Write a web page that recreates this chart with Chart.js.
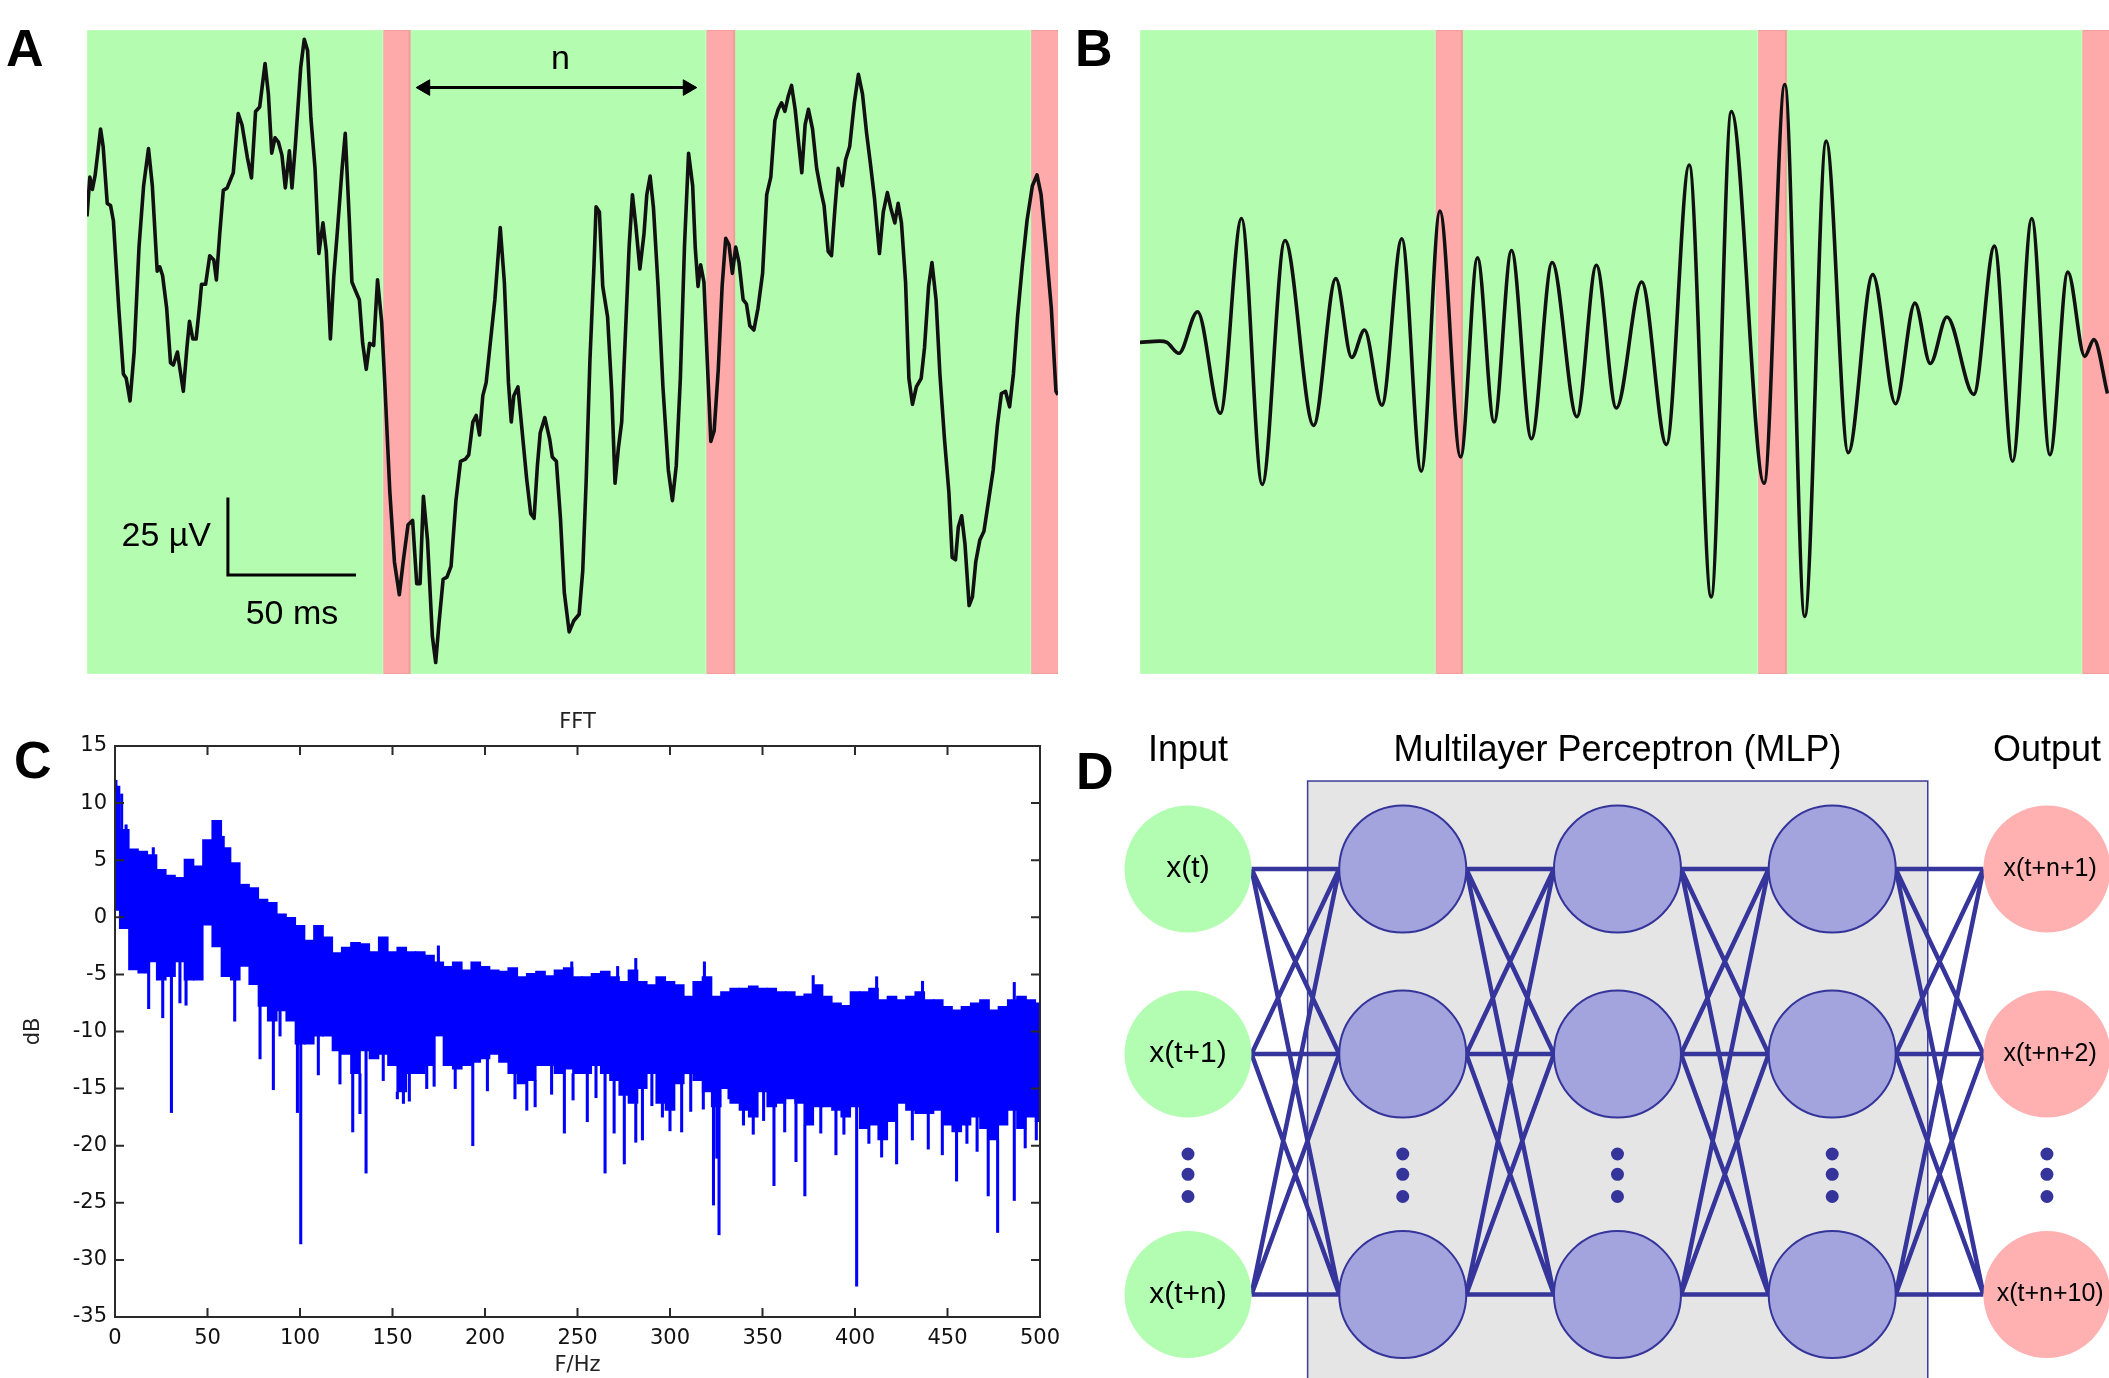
<!DOCTYPE html>
<html>
<head>
<meta charset="utf-8">
<title>EEG windows, FFT and MLP</title>
<script src="https://cdn.jsdelivr.net/npm/chart.js@4.4.1/dist/chart.umd.min.js"></script>
<style>
  body { margin: 0; background: #fff; }
  #page { position: relative; width: 2109px; height: 1378px; overflow: hidden; background: #fff; }
  #page canvas { position: absolute; }
  .panel-letter {
    position: absolute;
    font: bold 52px Arial, "Liberation Sans", sans-serif;
    line-height: 1;
    color: #000;
    z-index: 5;
  }
</style>
</head>
<body>
<div id="page">
  <canvas id="trace-a" width="971" height="644" style="left:87px;top:30px"></canvas>
  <canvas id="trace-b" width="969" height="644" style="left:1140px;top:30px"></canvas>
  <canvas id="fft-chart" width="1070" height="678" style="left:0;top:700px"></canvas>
  <canvas id="mlp-chart" width="1029" height="678" style="left:1080px;top:700px"></canvas>
  <div class="panel-letter" style="left:6px;top:22px">A</div>
  <div class="panel-letter" style="left:1075px;top:22px">B</div>
  <div class="panel-letter" style="left:14px;top:734px">C</div>
  <div class="panel-letter" style="left:1076px;top:745px">D</div>
</div>
<script>
// Panel A: raw EEG (time in ms, amplitude in µV)
const rawTimeMs = [0,1.1,2.1,3.2,5.3,6.3,7.9,9.2,10.3,12.4,14.2,15.3,16.8,18.4,20.3,22.1,24.0,25.5,27.4,28.4,
  29.5,31.1,32.6,33.7,35.3,36.3,37.6,39.0,40.0,41.3,42.6,44.0,44.7,46.3,47.9,49.5,50.5,51.8,53.2,54.7,
  57.1,59.0,60.5,62.6,64.2,65.8,67.4,69.5,70.8,72.1,73.4,74.7,76.1,77.4,79.0,80.0,81.3,83.4,84.8,86.1,
  87.4,89.0,90.5,92.1,93.4,95.0,96.3,97.9,99.5,100.8,102.4,103.4,104.8,106.3,107.6,109.0,110.3,111.9,113.4,115.0,
  116.3,118.2,120.0,121.9,123.4,125.3,127.1,128.7,130.0,131.3,132.9,134.8,136.1,137.4,139.0,140.5,142.1,144.0,145.8,147.7,
  149.0,150.6,151.9,153.2,154.5,155.8,157.4,159.2,161.3,162.9,164.5,165.6,166.6,168.2,169.5,171.6,173.2,174.5,175.8,176.9,
  178.7,180.6,181.6,183.2,184.8,186.3,188.2,190.0,192.1,193.5,194.8,196.3,197.9,198.7,200.0,201.3,203.2,204.8,206.1,207.4,
  208.7,210.0,211.6,212.9,214.2,215.8,217.4,218.5,219.8,221.1,222.9,224.8,226.9,228.5,230.0,231.6,233.2,234.8,236.4,237.4,
  238.5,239.5,240.8,242.1,243.5,244.8,246.4,247.9,249.3,250.6,251.9,253.2,254.5,256.1,257.4,258.7,260.3,261.9,263.7,265.3,
  266.9,268.5,269.8,271.1,272.4,273.7,275.0,276.4,277.9,279.0,280.3,281.6,283.2,284.8,286.4,287.7,289.3,290.6,291.9,293.2,
  294.8,296.1,297.7,299.5,301.1,302.7,304.3,305.8,307.4,309.3,310.8,312.4,313.7,315.3,316.6,317.9,319.5,320.8,322.2,323.7,
  325.6,326.9,328.5,329.8,331.4,332.9,334.7,336.4,337.7,339.0,340.1,341.4,342.7,344.3,345.6,346.9,348.5,350.1,351.9,353.7,
  355.3,356.9,358.5,360.1,361.6,363.2,365.1,366.9,369.0,370.8,372.4,374.3,376.4,378.2,379.0];
const rawMicroV = [43.8,56.5,52.5,57.2,72.0,66.4,48.0,47.3,42.4,14.1,-7.1,-8.5,-15.8,0,33.9,53.7,65.7,53.7,26.1,27.5,
  24.7,14.1,-3.5,-4.2,0,-5.6,-12.7,1.4,9.9,4.2,4.2,15.5,21.9,21.9,31.1,29.7,23.3,38.1,52.2,53.0,
  57.9,77.0,73.4,62.8,56.2,77.7,79.1,93.2,83.3,64.2,69.2,67.8,63.5,53.0,65.0,53.0,66.4,91.8,101.0,97.4,
  75.5,59.3,31.8,41.7,32.5,4.2,24.0,40.9,58.6,70.6,42.4,22.6,19.8,16.9,2.8,-5.6,2.8,2.1,23.3,9.9,
  -11.3,-45.2,-67.8,-78.4,-67.8,-55.8,-54.4,-74.8,-74.8,-46.6,-60.7,-91.8,-100.3,-87.5,-73.4,-72.7,-69.2,-48.0,-35.3,-34.6,
  -33.2,-22.6,-20.5,-26.8,-14.1,-9.9,2.8,16.9,40.2,22.6,-9.9,-22.6,-14.1,-11.3,-22.6,-40.9,-52.2,-53.7,-36.7,-26.1,
  -21.2,-28.2,-33.9,-35.3,-53.7,-77.7,-90.4,-86.8,-84.7,-70.6,-42.4,-2.8,28.2,46.9,45.2,21.2,11.3,-12.7,-42.4,-31.1,
  -22.6,2.8,33.9,50.8,40.9,26.8,38.1,50.8,56.8,46.6,21.2,-11.3,-38.1,-48.0,-36.7,-8.5,33.9,64.2,53.7,33.9,
  21.2,28.2,22.6,-2.8,-28.9,-25.4,-5.6,21.2,36.7,34.6,25.4,33.9,28.9,16.9,15.5,8.5,7.1,14.1,25.4,50.8,
  56.5,74.8,78.4,80.5,77.7,82.6,86.1,78.4,66.4,57.9,73.4,78.4,72.0,59.3,52.2,47.3,32.5,31.1,45.9,59.3,
  53.7,62.1,66.4,80.5,89.7,83.3,70.6,60.7,49.4,31.8,45.2,51.5,46.6,41.7,48.0,41.7,22.6,-8.5,-16.9,-11.3,
  -8.5,1.4,21.2,28.9,16.9,-7.1,-28.2,-45.2,-66.4,-67.1,-56.5,-52.9,-62.1,-81.9,-79.1,-67.8,-60.7,-57.9,-48.0,-38.1,
  -24.0,-13.4,-12.7,-17.7,-7.1,11.3,28.2,42.4,53.7,57.2,50.8,33.9,14.1,-12.7,-13.8];

// Panel B: filtered EEG, turning points
const filtTimeMs = [0,7.8,10.5,15.2,22.5,31.4,39.7,47.8,56.7,67.9,76.6,82.8,87.8,94.6,102.4,110.0,117.3,125.4,132.0,138.5,
  145.3,153.1,161.2,170.9,178.5,186.3,196.2,205.9,214.8,223.4,231.3,244.1,252.2,260.0,268.4,277.0,286.6,295.5,303.1,309.1,
  315.6,326.1,334.2,341.3,348.8,355.9,362.9,369.5,373.1,378.4];
const filtMicroV = [3.1,3.5,3.1,-0.4,13.0,-19.8,43.1,-42.8,36.0,-23.7,23.7,-1.8,7.1,-17.2,36.6,-38.5,45.5,-33.9,30.4,-22.6,
  32.8,-28.0,28.9,-20.9,28.0,-18.1,22.6,-29.9,60.4,-79.1,77.7,-42.4,86.4,-85.4,68.1,-32.5,25.0,-16.7,15.8,-3.7,
  11.3,-13.7,34.2,-35.3,43.1,-33.2,25.8,-1.4,4.0,-13.4];

// input windows (n samples) and the predicted samples that follow them
const segmentStart = [0, 115.4, 125.9, 241.5, 252.6, 368.3];
const segmentEnd = [115.4, 125.9, 241.5, 252.6, 368.3, 380];
const segmentType = ["window", "target", "window", "target", "window", "target"];

const scaleBarMs = 50;
const scaleBarMicroV = 25;
const scaleBarOrigin = [55, -72];
const windowArrowMs = [132, 234.5];
const windowArrowMicroV = 85.4;

// Panel C: FFT spectrum, 5 Hz bins (top and bottom of the trace in each bin)
const fftFreq = [0,5,10,15,20,25,30,35,40,45,50,55,60,65,70,75,80,85,90,95,
  100,105,110,115,120,125,130,135,140,145,150,155,160,165,170,175,180,185,190,195,
  200,205,210,215,220,225,230,235,240,245,250,255,260,265,270,275,280,285,290,295,
  300,305,310,315,320,325,330,335,340,345,350,355,360,365,370,375,380,385,390,395,
  400,405,410,415,420,425,430,435,440,445,450,455,460,465,470,475,480,485,490,495,500];
const fftHigh = [11.5,7.7,6.0,5.8,5.5,4.2,3.7,3.5,5.1,4.5,6.8,8.5,6.1,4.8,2.9,2.6,1.6,1.3,0.3,0.0,
  -0.7,-2.0,-0.7,-1.7,-3.1,-2.6,-2.2,-2.3,-3.0,-1.7,-3.0,-2.6,-3.0,-3.0,-3.3,-3.9,-4.3,-3.9,-4.6,-3.9,
  -4.3,-4.6,-4.7,-4.4,-5.2,-4.9,-4.7,-5.1,-4.6,-4.4,-5.2,-5.2,-4.9,-4.7,-5.2,-5.6,-4.6,-5.6,-5.9,-5.2,
  -5.6,-5.9,-6.9,-5.6,-5.2,-6.9,-6.5,-6.2,-6.2,-6.0,-6.2,-6.2,-6.5,-6.5,-6.9,-6.7,-5.9,-6.9,-7.5,-7.7,
  -6.5,-6.5,-6.2,-7.2,-6.9,-7.2,-6.9,-6.5,-7.2,-7.2,-7.8,-8.1,-7.8,-7.5,-7.2,-8.1,-7.8,-7.2,-6.9,-7.2,-7.5];
const fftLow = [0.6,-1.0,-4.6,-4.9,-3.9,-5.5,-5.2,-3.9,-5.5,-5.5,-0.7,-2.6,-5.2,-5.5,-4.3,-5.9,-7.8,-9.1,-8.2,-9.1,
  -11.1,-11.1,-10.4,-10.4,-11.7,-12.0,-13.7,-11.7,-12.4,-12.0,-13.0,-15.3,-13.7,-13.7,-13.0,-10.4,-13.0,-13.3,-13.0,-12.7,
  -12.4,-12.0,-12.7,-13.7,-14.6,-14.3,-13.0,-13.0,-13.7,-13.3,-13.7,-13.7,-13.0,-13.7,-14.3,-15.6,-16.3,-15.0,-13.7,-16.3,
  -16.9,-14.6,-13.7,-14.3,-15.3,-16.6,-15.0,-16.3,-16.9,-17.5,-15.3,-16.6,-16.3,-15.9,-16.3,-18.2,-16.6,-16.6,-16.9,-17.5,
  -16.6,-18.5,-18.2,-19.5,-17.9,-16.3,-16.9,-17.2,-17.2,-16.9,-18.2,-18.8,-18.2,-17.5,-18.5,-19.5,-18.2,-16.9,-18.5,-17.5,-17.9];
// single deep dips and tall teeth
const dipHz = [18.2,25.8,30.5,35.1,38.4,64.7,78.4,85.6,89.2,98.6,100.4,109.9,121.6,128.5,132.4,135.7,145.0,152.6,155.9,159.1,
  168.5,172.5,183.9,193.4,201.3,216.2,222.6,227.1,236.0,242.9,247.6,255.3,260.0,264.9,269.8,275.3,281.5,285.1,290.2,295.9,
  300.0,306.3,311.2,318.0,323.5,325.3,326.5,331.9,339.7,345.0,350.6,356.2,362.0,368.1,372.9,381.5,389.7,394.0,400.9,407.5,
  414.4,422.5,431.0,439.6,447.2,454.9,460.5,466.0,472.0,477.1,486.1,492.0,498.0];
const dipDb = [-8.0,-8.8,-17.1,-7.5,-7.7,-9.1,-12.4,-15.1,-10.4,-17.1,-28.6,-13.8,-14.6,-18.8,-17.2,-22.4,-14.3,-15.9,-16.3,-16.1,
  -15.0,-14.8,-15.0,-20.0,-15.2,-15.9,-16.9,-16.6,-15.5,-18.9,-16.0,-17.9,-15.8,-22.4,-18.9,-21.6,-19.7,-19.5,-16.5,-17.5,
  -18.7,-18.8,-17.0,-16.8,-25.2,-21.1,-27.8,-15.9,-18.2,-19.0,-17.8,-23.5,-18.8,-21.4,-24.4,-18.9,-20.8,-19.0,-32.3,-19.8,
  -21.0,-21.6,-19.5,-20.3,-20.8,-23.1,-19.8,-20.5,-24.4,-27.6,-24.8,-20.2,-19.5];
const peakHz = [0.5,3.6,6.0,20.7,58.5,174.8,246.9,271.7,281.5,318.6,377.4,411.7,436.5,486.1];
const peakDb = [12.0,10.8,8.1,6.1,7.1,-2.5,-3.9,-4.3,-3.6,-3.9,-5.1,-5.2,-5.6,-5.7];

// Panel D: network layout (layer index, row index)
const layerIndex = [0, 1, 2, 3, 4];
const layerTitles = ["Input", "Multilayer Perceptron (MLP)", "Output"];
const layerTitleAt = [0, 2, 4];
const nodeRows = [0, 1, 2.3];
const ellipsisRows = [1.54, 1.65, 1.77];
const inputLabels = ["x(t)", "x(t+1)", "x(t+n)"];
const outputLabels = ["x(t+n+1)", "x(t+n+2)", "x(t+n+10)"];

const FONT = 'Arial, "Liberation Sans", sans-serif';
const AMP_LIMIT = 104;
Chart.defaults.font.family = FONT;

const textPlugin = {
  id: "panelText",
  afterDatasetsDraw(chart, args, opts) {
    const { ctx, scales } = chart;
    ctx.save();
    (opts.items || []).forEach((item) => {
      ctx.font = item.font;
      ctx.fillStyle = item.color || "#000";
      ctx.textAlign = item.align || "center";
      ctx.textBaseline = "middle";
      ctx.fillText(item.text, scales.x.getPixelForValue(item.x), scales.y.getPixelForValue(item.y));
    });
    ctx.restore();
  },
};

function segmentDatasets() {
  return segmentStart.map((start, i) => {
    const end = segmentEnd[i];
    const target = segmentType[i] === "target";
    return {
      data: [
        { x: start, y: -AMP_LIMIT },
        { x: start, y: AMP_LIMIT },
        { x: end, y: AMP_LIMIT },
        { x: end, y: -AMP_LIMIT },
        { x: start, y: -AMP_LIMIT },
      ],
      fill: "shape",
      backgroundColor: target ? "#ffaaaa" : "#b3fcb0",
      borderColor: target ? "#f49b9b" : "#c4fdc1",
      borderWidth: target ? 2 : 1.5,
      pointRadius: 0,
      tension: 0,
      order: 10,
    };
  });
}

function traceChart(canvasId, timeMs, microV, traceStyle, extras, texts) {
  const points = timeMs.map((t, i) => ({ x: t, y: microV[i] }));
  return new Chart(document.getElementById(canvasId), {
    type: "line",
    data: {
      datasets: [
        ...segmentDatasets(),
        Object.assign({ data: points, borderColor: "#111", borderWidth: 3.6, pointRadius: 0,
          borderJoinStyle: "round", fill: false, order: 1 }, traceStyle),
        ...extras,
      ],
    },
    options: {
      responsive: false,
      animation: false,
      events: [],
      layout: { padding: 0, autoPadding: false },
      scales: {
        x: { type: "linear", min: 0, max: 379, display: false },
        y: { min: -AMP_LIMIT, max: AMP_LIMIT, display: false },
      },
      plugins: { legend: { display: false }, tooltip: { enabled: false }, panelText: { items: texts } },
    },
    plugins: [textPlugin],
  });
}

// A
traceChart("trace-a", rawTimeMs, rawMicroV, { tension: 0 }, [
  {
    data: [
      { x: scaleBarOrigin[0], y: scaleBarOrigin[1] + scaleBarMicroV },
      { x: scaleBarOrigin[0], y: scaleBarOrigin[1] },
      { x: scaleBarOrigin[0] + scaleBarMs, y: scaleBarOrigin[1] },
    ],
    borderColor: "#000", borderWidth: 3, pointRadius: 0, tension: 0, fill: false, order: 0,
  },
  {
    data: windowArrowMs.map((t) => ({ x: t, y: windowArrowMicroV })),
    borderColor: "#000", borderWidth: 3, fill: false, order: 0,
    pointStyle: "triangle", pointRadius: 9, pointRotation: [-90, 90],
    pointBackgroundColor: "#000", pointBorderColor: "#000", pointBorderWidth: 1,
  },
], [
  { text: "25 µV", x: 48.4, y: -59.6, align: "right", font: "34px " + FONT },
  { text: "50 ms", x: 80, y: -84.7, font: "34px " + FONT },
  { text: "n", x: 184.8, y: 94.3, font: "34px " + FONT },
]);

// B
traceChart("trace-b", filtTimeMs, filtMicroV, { cubicInterpolationMode: "monotone" }, [], []);

// C
const matlabBox = {
  id: "matlabBox",
  afterDatasetsDraw(chart) {
    const { ctx, chartArea: a, scales: { x, y } } = chart;
    const tick = 9;
    ctx.save();
    ctx.strokeStyle = "#2a2a2a";
    ctx.lineWidth = 2;
    ctx.strokeRect(a.left, a.top, a.right - a.left, a.bottom - a.top);
    ctx.beginPath();
    x.ticks.forEach((t) => {
      const px = x.getPixelForValue(t.value);
      ctx.moveTo(px, a.bottom); ctx.lineTo(px, a.bottom - tick);
      ctx.moveTo(px, a.top); ctx.lineTo(px, a.top + tick);
    });
    y.ticks.forEach((t) => {
      const py = y.getPixelForValue(t.value);
      ctx.moveTo(a.left, py); ctx.lineTo(a.left + tick, py);
      ctx.moveTo(a.right, py); ctx.lineTo(a.right - tick, py);
    });
    ctx.stroke();
    ctx.restore();
  },
};

const fftFont = { family: '"DejaVu Sans", Arial, sans-serif', size: 21 };
new Chart(document.getElementById("fft-chart"), {
  type: "bar",
  data: {
    datasets: [
      {
        label: "FFT",
        data: fftFreq.map((f, i) => ({ x: f, y: [fftLow[i], fftHigh[i]] })),
        backgroundColor: "#0000ff",
        barThickness: 10,
        grouped: false,
      },
      {
        label: "dips",
        data: dipHz.map((f, i) => ({ x: f, y: [dipDb[i], fftLow[Math.round(f / 5)]] })),
        backgroundColor: "#0000ff",
        barThickness: 2.4,
        grouped: false,
      },
      {
        label: "peaks",
        data: peakHz.map((f, i) => ({ x: f, y: [fftHigh[Math.round(f / 5)], peakDb[i]] })),
        backgroundColor: "#0000ff",
        barThickness: 2.4,
        grouped: false,
      },
    ],
  },
  options: {
    responsive: false,
    animation: false,
    events: [],
    layout: { padding: { right: 30 }, autoPadding: false },
    scales: {
      x: {
        type: "linear", min: 0, max: 500, offset: false,
        grid: { display: false, drawTicks: false, offset: false },
        border: { display: false },
        ticks: { stepSize: 50, color: "#111", font: fftFont, padding: 9, maxRotation: 0, autoSkip: false },
        title: { display: true, text: "F/Hz", color: "#222", font: fftFont, padding: { top: 0, bottom: 0 } },
        afterFit: (scale) => { scale.height = 61; },
      },
      y: {
        min: -35, max: 15,
        grid: { display: false, drawTicks: false },
        border: { display: false },
        ticks: { stepSize: 5, color: "#111", font: fftFont, padding: 8 },
        title: { display: true, text: "dB", color: "#222", font: fftFont, padding: { top: 21, bottom: 0 } },
        afterFit: (scale) => { scale.width = 115; },
      },
    },
    plugins: {
      legend: { display: false },
      tooltip: { enabled: false },
      title: { display: true, text: "FFT", fullSize: false, color: "#222", font: Object.assign({ weight: "normal" }, fftFont), padding: { top: 10, bottom: 10.8 } },
    },
  },
  plugins: [matlabBox],
});

// D
const networkPlugin = {
  id: "network",
  beforeDatasetsDraw(chart, args, opts) {
    const { ctx, scales: { x, y } } = chart;
    ctx.save();
    const bx0 = x.getPixelForValue(opts.box.from);
    const bx1 = x.getPixelForValue(opts.box.to);
    const by0 = y.getPixelForValue(opts.box.top);
    ctx.fillStyle = "#e5e5e5";
    ctx.fillRect(bx0, by0, bx1 - bx0, chart.height - by0 + 10);
    ctx.strokeStyle = "#3b3b9b";
    ctx.lineWidth = 1.5;
    ctx.strokeRect(bx0, by0, bx1 - bx0, chart.height - by0 + 10);

    ctx.strokeStyle = "#35359b";
    ctx.lineWidth = 4.5;
    ctx.beginPath();
    for (let l = 0; l < layerIndex.length - 1; l++) {
      const x0 = x.getPixelForValue(layerIndex[l]) + opts.nodeRadius;
      const x1 = x.getPixelForValue(layerIndex[l + 1]) - opts.nodeRadius;
      nodeRows.forEach((r0) => {
        nodeRows.forEach((r1) => {
          ctx.moveTo(x0, y.getPixelForValue(r0));
          ctx.lineTo(x1, y.getPixelForValue(r1));
        });
      });
    }
    ctx.stroke();
    ctx.restore();
  },
};

const nodeRadius = 63.5;
new Chart(document.getElementById("mlp-chart"), {
  type: "scatter",
  data: {
    datasets: [
      {
        data: nodeRows.map((r) => ({ x: layerIndex[0], y: r })),
        pointRadius: nodeRadius, backgroundColor: "#b3fdb3", borderWidth: 0,
      },
      {
        data: layerIndex.slice(1, 4).flatMap((l) => nodeRows.map((r) => ({ x: l, y: r }))),
        pointRadius: nodeRadius, backgroundColor: "#a3a3de", borderColor: "#34349a", borderWidth: 2,
      },
      {
        data: nodeRows.map((r) => ({ x: layerIndex[4], y: r })),
        pointRadius: nodeRadius, backgroundColor: "#ffb0b0", borderWidth: 0,
      },
      {
        data: layerIndex.flatMap((l) => ellipsisRows.map((r) => ({ x: l, y: r }))),
        pointRadius: 6.5, backgroundColor: "#34349a", borderWidth: 0,
      },
    ],
  },
  options: {
    responsive: false,
    animation: false,
    events: [],
    layout: { padding: 0, autoPadding: false },
    scales: {
      x: { type: "linear", min: -0.503, max: 4.289, display: false },
      y: { min: -0.914, max: 2.751, reverse: true, display: false },
    },
    plugins: {
      legend: { display: false },
      tooltip: { enabled: false },
      network: { box: { from: 0.557, to: 3.445, top: -0.476 }, nodeRadius: nodeRadius },
      panelText: {
        items: [
          ...layerTitles.map((t, i) => ({ text: t, x: layerTitleAt[i], y: -0.64, font: "36px " + FONT })),
          ...inputLabels.map((t, i) => ({ text: t, x: layerIndex[0], y: nodeRows[i], font: "30px " + FONT })),
          ...outputLabels.map((t, i) => ({ text: t, x: layerIndex[4] + 0.015, y: nodeRows[i], font: "25px " + FONT })),
        ],
      },
    },
  },
  plugins: [networkPlugin, textPlugin],
});
</script>
</body>
</html>
